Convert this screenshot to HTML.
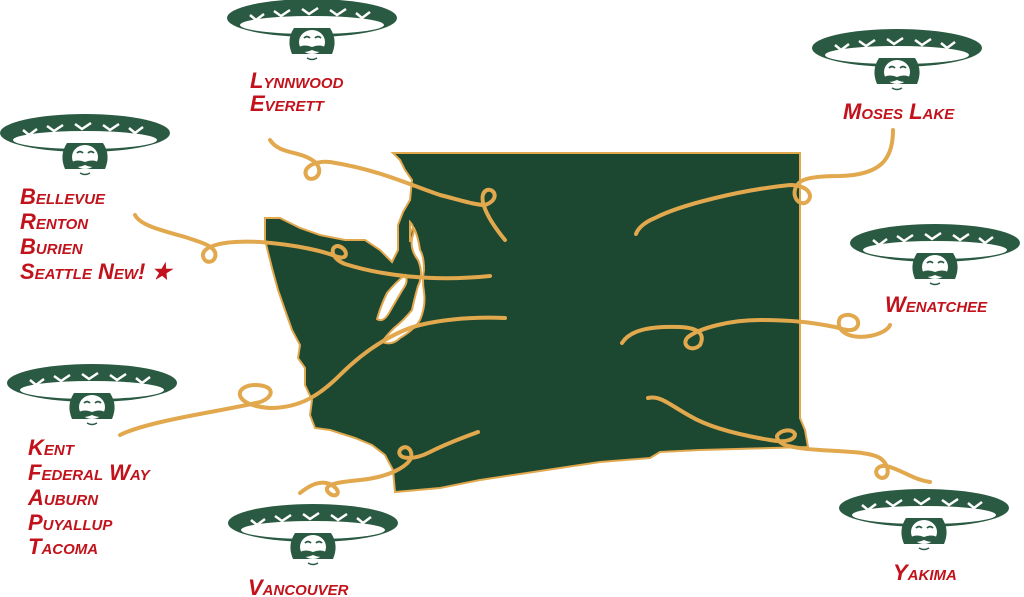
<!DOCTYPE html>
<html><head><meta charset="utf-8"><style>
html,body{margin:0;padding:0;background:#fff;}
svg{display:block}
.t{font-family:"Liberation Sans",sans-serif;font-weight:bold;font-style:italic;fill:#c2121b;font-size:22px;font-variant:small-caps;}
.c{fill:none;stroke:#e1a84e;stroke-width:4;stroke-linecap:round;stroke-linejoin:round}
</style></head><body>
<svg width="1024" height="597" viewBox="0 0 1024 597" xmlns="http://www.w3.org/2000/svg">
<defs>
<g id="hat">
<ellipse cx="0" cy="0" rx="85" ry="19" fill="#2b5a43"/>
<ellipse cx="0" cy="7" rx="72" ry="9" fill="#fff"/>
<g fill="none" stroke="#fff" stroke-width="2.5">
<path d="M-62,-3 l6,5 l8,-6"/><path d="M-38,-7 l7,5 l9,-6"/><path d="M-10,-9 l7,5 l9,-6"/><path d="M18,-8 l7,5 l9,-6"/><path d="M44,-5 l6,5 l8,-6"/>
</g>
<path d="M-18,10 q-8,12 -2,26 l40,0 q6,-14 -2,-26 z" fill="#2b5a43"/>
<ellipse cx="0" cy="24" rx="13" ry="12" fill="#fff"/>
<path d="M-8,20 q3,-3 6,0 M3,20 q3,-3 6,0" stroke="#2b5a43" stroke-width="1.8" fill="none"/>
<path d="M-17,32 q7,-7 17,-3 q10,-4 17,3 q-8,4 -17,0 q-9,4 -17,0z" fill="#2b5a43"/>
<path d="M-5,40 q5,3 10,0" stroke="#2b5a43" stroke-width="1.4" fill="none"/>
</g>
</defs>

<path d="M393,153 L800,153 L800,418 L805,430 L808,447 L700,450 L660,452 L650,458 L600,462 L560,468 L520,474 L480,480 L440,488 L395,492 L393,470 L385,455 L372,445 L355,438 L330,430 L315,428 L310,415 L312,400 L305,385 L305,368 L298,358 L300,345 L292,330 L285,310 L278,290 L272,268 L265,240 L265,218 L280,218 L300,228 L320,235 L345,240 L365,240 L380,250 L388,258 L392,262 L398,250 L398,225 L403,212 L410,200 L412,180 L405,170 L400,160 Z" fill="#1c4731" stroke="#e1a84e" stroke-width="2"/>
<path d="M410,222 q6,6 2,16 q-2,12 6,22 q6,14 0,26 q-4,14 -6,24 q-8,10 -18,18 q-8,8 -12,14 q10,4 18,-4 q14,-8 20,-18 q6,-14 4,-28 q-2,-12 0,-22 q0,-14 -4,-20 q-2,-14 -6,-22 q-4,0 -4,14z M405,275 q-10,8 -18,18 q-6,12 -10,26 q6,4 12,-6 q8,-14 14,-24 q6,-8 2,-14z" fill="#fff" stroke="#e1a84e" stroke-width="2"/>

<path class="c" d="M270,140 C280,155 300,150 315,162 C325,172 315,182 308,178 C300,170 312,160 330,162 C380,170 410,185 440,195 C460,200 475,205 485,205 C500,200 495,188 487,190 C478,194 482,212 505,240"/>
<path class="c" d="M135,215 C140,225 160,230 185,237 C200,242 212,245 215,252 C218,262 205,266 203,256 C202,247 220,240 260,242 C300,245 325,252 335,256 C350,262 348,248 338,246 C330,246 330,258 345,264 C380,275 430,282 490,276"/>
<path class="c" d="M120,435 C150,420 230,410 260,402 C275,397 275,385 255,385 C235,385 230,405 270,408 C300,408 320,395 340,375 C370,345 400,330 420,325 C450,318 480,317 505,318"/>
<path class="c" d="M300,493 C310,485 320,480 330,484 C345,492 335,500 328,492 C322,484 340,482 360,480 C390,477 405,467 410,460 C415,450 405,443 400,450 C396,458 410,462 430,452 C450,442 465,437 478,432"/>
<path class="c" d="M893,130 C893,160 880,175 840,176 C820,176 805,178 800,182 C790,190 795,205 805,203 C815,198 810,185 790,185 C740,190 680,205 655,218 C645,222 638,228 636,234"/>
<path class="c" d="M622,343 C630,330 650,326 680,327 C700,328 705,335 700,345 C692,353 680,345 688,337 C700,328 730,320 760,320 C790,320 810,322 835,327 C845,330 855,333 858,325 C860,315 845,312 840,318 C835,328 845,340 870,336 C880,334 888,330 890,325"/>
<path class="c" d="M648,398 C660,395 670,405 690,416 C710,428 740,435 770,440 C785,443 795,440 795,434 C792,428 780,430 777,436 C777,445 790,448 820,450 C850,452 870,452 880,458 C890,465 890,478 882,478 C872,476 875,462 890,467 C905,472 915,480 930,482"/>

<use href="#hat" x="312" y="18"/>
<use href="#hat" x="85" y="133"/>
<use href="#hat" x="92" y="383"/>
<use href="#hat" x="313" y="523"/>
<use href="#hat" x="897" y="48"/>
<use href="#hat" x="935" y="243"/>
<use href="#hat" x="924" y="508"/>

<text class="t" x="250" y="88">Lynnwood</text>
<text class="t" x="250" y="111">Everett</text>
<text class="t" x="20" y="204">Bellevue</text>
<text class="t" x="20" y="229">Renton</text>
<text class="t" x="20" y="254">Burien</text>
<text class="t" x="20" y="279">Seattle New! ★</text>
<text class="t" x="28" y="455">Kent</text>
<text class="t" x="28" y="480">Federal Way</text>
<text class="t" x="28" y="505">Auburn</text>
<text class="t" x="28" y="530">Puyallup</text>
<text class="t" x="28" y="554">Tacoma</text>
<text class="t" x="248" y="595">Vancouver</text>
<text class="t" x="843" y="119">Moses Lake</text>
<text class="t" x="885" y="312">Wenatchee</text>
<text class="t" x="893" y="580">Yakima</text>
</svg>
</body></html>
